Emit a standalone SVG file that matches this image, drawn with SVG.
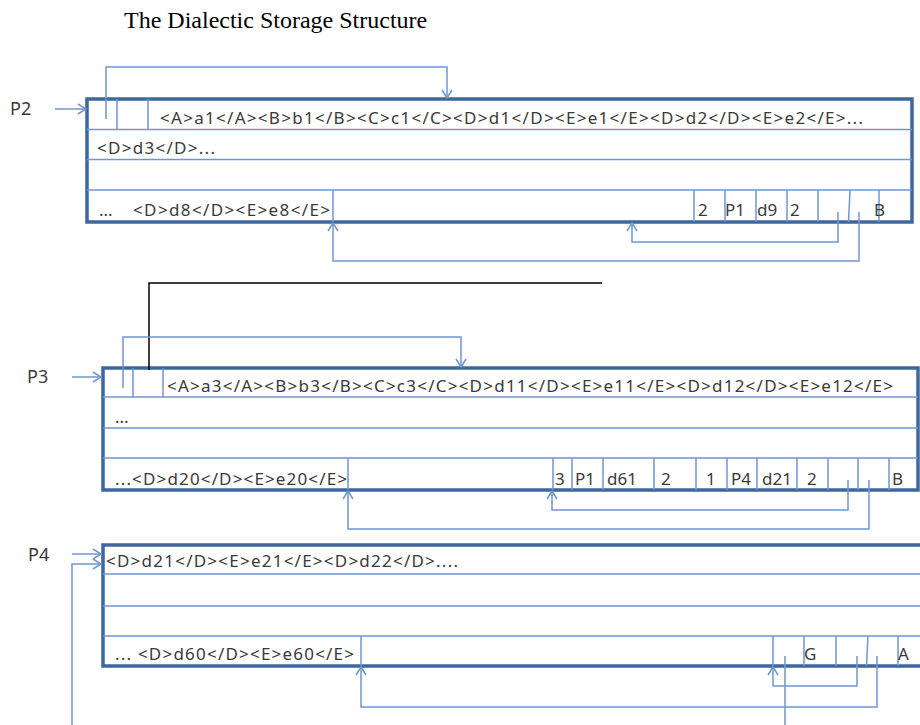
<svg xmlns="http://www.w3.org/2000/svg" width="920" height="725" viewBox="0 0 920 725">
<style>
.box{fill:none;stroke:#3d679e;stroke-width:3.5}
.ln{fill:none;stroke:#6f97cf;stroke-width:1.5}
.cn{fill:none;stroke:#6f97cf;stroke-width:1.5}
.blk{fill:none;stroke:#000;stroke-width:1.5}
.t{font-family:"Noto Sans","Open Sans",sans-serif;font-size:17px;fill:#3a3a3a}
.lbl{font-family:"Noto Sans","Open Sans",sans-serif;font-size:18px;fill:#3a3a3a}
.title{font-family:"Liberation Serif","Times New Roman",serif;font-size:24px;fill:#000}
</style>
<defs>
<marker id="ah" markerUnits="userSpaceOnUse" markerWidth="12" markerHeight="12" refX="9" refY="6" orient="auto">
<path d="M1,1 L9,6 L1,11" fill="none" stroke="#6f97cf" stroke-width="1.5"/>
</marker>
</defs>
<rect width="920" height="725" fill="#fff"/>
<text class="title" x="124" y="28">The Dialectic Storage Structure</text>

<g id="P2">
<text class="lbl" x="10" y="115">P2</text>
<rect class="box" x="87" y="99" width="825" height="123"/>
<path class="ln" d="M87,129.5H912M87,159.5H912M87,190H912"/>
<path class="ln" d="M117,99V129.5M148,99V129.5"/>
<path class="ln" d="M333,190V222M694,190V222M725,190V222M756,190V222M787,190V222M818,190V222M850,190L848.5,222M879,190V222"/>
<text class="t" x="160" y="124" textLength="703" lengthAdjust="spacing">&lt;A&gt;a1&lt;/A&gt;&lt;B&gt;b1&lt;/B&gt;&lt;C&gt;c1&lt;/C&gt;&lt;D&gt;d1&lt;/D&gt;&lt;E&gt;e1&lt;/E&gt;&lt;D&gt;d2&lt;/D&gt;&lt;E&gt;e2&lt;/E&gt;...</text>
<text class="t" x="97" y="154" textLength="118" lengthAdjust="spacing">&lt;D&gt;d3&lt;/D&gt;...</text>
<text class="t" x="99" y="216">...</text>
<text class="t" x="133" y="216" textLength="197" lengthAdjust="spacing">&lt;D&gt;d8&lt;/D&gt;&lt;E&gt;e8&lt;/E&gt;</text>
<text class="t" x="698" y="216">2</text>
<text class="t" x="725" y="216">P1</text>
<text class="t" x="757" y="216">d9</text>
<text class="t" x="790" y="216">2</text>
<text class="t" x="874" y="216">B</text>
</g>

<g id="P3">
<text class="lbl" x="27" y="383">P3</text>
<rect class="box" x="103" y="368" width="815" height="122"/>
<path class="ln" d="M103,397H918M103,428H918M103,458H918"/>
<path class="ln" d="M133,368V397M163,368V397"/>
<path class="ln" d="M348,458V490M553,458V490M572,458V490M603,458V490M654,458V490M696,458V490M727,458V490M757,458V490M797,458V490M828,458V490M858,458V490M889,458V490"/>
<text class="t" x="167" y="392" textLength="726" lengthAdjust="spacing">&lt;A&gt;a3&lt;/A&gt;&lt;B&gt;b3&lt;/B&gt;&lt;C&gt;c3&lt;/C&gt;&lt;D&gt;d11&lt;/D&gt;&lt;E&gt;e11&lt;/E&gt;&lt;D&gt;d12&lt;/D&gt;&lt;E&gt;e12&lt;/E&gt;</text>
<text class="t" x="115" y="423">...</text>
<text class="t" x="115" y="485" textLength="232" lengthAdjust="spacing">...&lt;D&gt;d20&lt;/D&gt;&lt;E&gt;e20&lt;/E&gt;</text>
<text class="t" x="555" y="485">3</text>
<text class="t" x="575" y="485">P1</text>
<text class="t" x="607" y="485">d61</text>
<text class="t" x="661" y="485">2</text>
<text class="t" x="706" y="485">1</text>
<text class="t" x="731" y="485">P4</text>
<text class="t" x="762" y="485">d21</text>
<text class="t" x="807" y="485">2</text>
<text class="t" x="892" y="485">B</text>
</g>

<g id="P4">
<text class="lbl" x="28" y="561">P4</text>
<path class="box" d="M925,545H103V666H925"/>
<path class="ln" d="M103,574H920M103,606H920M103,636H920"/>
<path class="ln" d="M361,636V666M773,636V666M804,636V666M836,636V666M868,636L866.5,666M898,636V666"/>
<text class="t" x="106" y="567" textLength="352" lengthAdjust="spacing">&lt;D&gt;d21&lt;/D&gt;&lt;E&gt;e21&lt;/E&gt;&lt;D&gt;d22&lt;/D&gt;....</text>
<text class="t" x="115" y="660" textLength="239" lengthAdjust="spacing">... &lt;D&gt;d60&lt;/D&gt;&lt;E&gt;e60&lt;/E&gt;</text>
<text class="t" x="804" y="660">G</text>
<text class="t" x="898" y="660">A</text>
</g>

<g id="connectors">
<path class="cn" d="M55,109H86" marker-end="url(#ah)"/>
<path class="cn" d="M106,119V67H447V98" marker-end="url(#ah)"/>
<path class="cn" d="M838,212V242H632V223" marker-end="url(#ah)"/>
<path class="cn" d="M859,212V261H333V223" marker-end="url(#ah)"/>
<path class="blk" d="M602,283H149V370"/>
<path class="cn" d="M72,377H101" marker-end="url(#ah)"/>
<path class="cn" d="M123,388V337H461V367" marker-end="url(#ah)"/>
<path class="cn" d="M848,480V510H552V491" marker-end="url(#ah)"/>
<path class="cn" d="M869,480V529H348V491" marker-end="url(#ah)"/>
<path class="cn" d="M72,554H101" marker-end="url(#ah)"/>
<path class="cn" d="M72,725V564H101" marker-end="url(#ah)"/>
<path class="cn" d="M857,656V686H773V667" marker-end="url(#ah)"/>
<path class="cn" d="M877,656V707H361V667" marker-end="url(#ah)"/>
<path class="cn" d="M785,656V725"/>
</g>
</svg>
